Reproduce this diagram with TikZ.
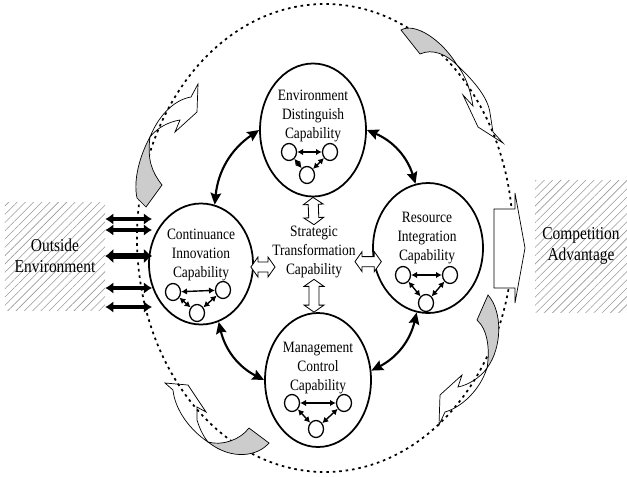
\documentclass[tikz,border=0pt]{standalone}
\usepackage{fontspec}
\setmainfont{Liberation Serif}[FakeStretch=0.85]
\usetikzlibrary{shapes.geometric, arrows.meta, calc, patterns.meta}

% hollow two-headed block arrow from one anchor to another
\newcommand\hollowlink[2]{%
  \draw[hollow] let \p1=($(#2)-(#1)$), \n1={atan2(\y1,\x1)}, \n2={veclen(\x1,\y1)} in
    [shift={(#1)}, rotate=\n1] (0,0) -- (6pt,8.5pt) -- (6pt,4.3pt) -- ({\n2*1pt-6pt},4.3pt)
    -- ({\n2*1pt-6pt},8.5pt) -- ({\n2*1pt},0pt) -- ({\n2*1pt-6pt},-8.5pt) -- ({\n2*1pt-6pt},-4.3pt)
    -- (6pt,-4.3pt) -- (6pt,-8.5pt) -- cycle;}

\begin{document}
\begin{tikzpicture}[x=0.03cm, y=-0.03cm, >={Stealth[length=10pt,width=9pt,inset=1.5pt]},
  lbl/.style={align=center, inner sep=1pt, font=\fontsize{13.5}{16.2}\selectfont},
  sidebox/.style={align=center, inner sep=0pt, font=\fontsize{15.5}{18}\selectfont,
    pattern={Lines[angle=45,distance=5pt,line width=0.5pt]}, pattern color=black!40},
  ring/.style={ellipse, draw, line width=1.5pt, fill=white, inner sep=0pt},
  dot/.style={ellipse, draw, line width=1.1pt, fill=white, minimum width=0.45cm, minimum height=0.51cm, inner sep=0pt},
  link/.style={<->, line width=1.8pt},
  mini/.style={{Latex[length=5pt,width=5.5pt]}-{Latex[length=5pt,width=5.5pt]}, line width=1.2pt},
  hollow/.style={draw, line width=0.7pt, fill=white},
  back/.style={draw, line width=0.6pt, fill=black!20},
  front/.style={draw, line width=0.6pt}]
  \useasboundingbox (0,0) rectangle (627,476);
  % hatched boxes at both sides
  \node[sidebox, minimum width=3cm, minimum height=3.24cm] (outside) at (55,256) {Outside\\Environment};
  \node[sidebox, minimum width=2.76cm, minimum height=3.96cm] (advantage) at (581,246) {Competition\\Advantage};
  % dotted boundary of the firm
  \draw[line width=1.5pt, dash pattern=on 2.2pt off 3.3pt] (325,238) ellipse [x radius=5.64cm, y radius=7.02cm];
  % block arrow towards the advantage
  \draw[line width=0.6pt, fill=white] (494,209) -- (515,209) -- (515,193) -- (525,248)
    -- (515,303) -- (515,288) -- (494,288) -- cycle;
  % turning ribbons round the boundary
  \draw[back] (150,137) .. controls (140,155) and (133,180) .. (137,198) -- (146,207) -- (162,185)
    .. controls (152,172) and (147,160) .. (150,137) -- cycle;
  \draw[front] (150,137) .. controls (158,117) and (173,100) .. (191,97) -- (198,84) -- (197,112)
    -- (175,132) -- (180,120) .. controls (168,122) and (157,128) .. (150,137);
  \draw[back] (401,30) .. controls (415,22) and (442,40) .. (457,65)
    .. controls (447,55) and (433,48) .. (420,54) -- cycle;
  \draw[front] (457,65) .. controls (475,82) and (488,98) .. (490,113) -- (493,132) -- (503,143)
    -- (478,127) -- (463,95) -- (473,106) .. controls (470,88) and (465,75) .. (457,65);
  \draw[back] (488,295) .. controls (503,312) and (502,348) .. (487,368)
    .. controls (490,350) and (488,330) .. (477,320) -- cycle;
  \draw[front] (487,368) .. controls (480,390) and (462,407) .. (445,412) -- (439,425) -- (440,395)
    -- (462,375) -- (458,387) .. controls (468,385) and (480,378) .. (487,368);
  \draw[front] (208,442) .. controls (190,430) and (175,410) .. (173,390) -- (165,383) -- (188,385)
    -- (206,412) -- (197,407) -- (197,420) .. controls (200,430) and (204,437) .. (208,442);
  \draw[back] (208,442) .. controls (222,446) and (240,440) .. (249,428) -- (269,443)
    .. controls (258,456) and (232,461) .. (208,442) -- cycle;
  % the four capabilities
  \node[ring, minimum width=3.18cm, minimum height=3.99cm] (envd) at (313,130) {};
  \node[ring, minimum width=3.12cm, minimum height=3.63cm] (innov) at (201,264) {};
  \node[ring, minimum width=3.3cm, minimum height=3.9cm] (resint) at (428,248) {};
  \node[ring, minimum width=3.18cm, minimum height=4.02cm] (mgmt) at (318,380) {};
  \node[lbl] (envd-t) at (313,116) {Environment\\Distinguish\\Capability};
  \node[lbl] (innov-t) at (201,255) {Continuance\\Innovation\\Capability};
  \node[lbl] (resint-t) at (427,238) {Resource\\Integration\\Capability};
  \node[lbl] (mgmt-t) at (318,368) {Management\\Control\\Capability};
  \node[lbl] (strat) at (314,252) {Strategic\\Transformation\\Capability};
  % small triangles inside
  \foreach \n/\ax/\ay/\bx/\by/\cx/\cy in {envd/-24/22/17/22/-6/45, innov/-28/28/22/26/-4/49,
      resint/-25/27/22/27/-2/55, mgmt/-26/23/26/23/-2/49} {
    \node[dot] (\n-a) at ($(\n)+(\ax,\ay)$) {};
    \node[dot] (\n-b) at ($(\n)+(\bx,\by)$) {};
    \node[dot] (\n-c) at ($(\n)+(\cx,\cy)$) {};
    \draw[mini] (\n-a) -- (\n-b);
    \draw[mini] (\n-a) -- (\n-c);
    \draw[mini] (\n-b) -- (\n-c);
  }
  % links between capabilities
  \draw[link] (envd.west) to[bend right=25] (innov.77);
  \draw[link] (envd.east) to[bend left=25] (resint.101);
  \draw[link] (innov.-73) to[bend right=25] (mgmt.west);
  \draw[link] (resint.-100) to[bend left=25] (mgmt.10);
  % hollow arrows to the centre
  \coordinate (innov-in) at ($(innov.east)+(-3,3)$);
  \coordinate (resint-in) at ($(resint.194)+(8,0)$);
  \coordinate (strat-w) at ($(strat.west)+(4,0)$);
  \coordinate (strat-e) at ($(strat.east)+(-2,0)$);
  \hollowlink{envd.south}{strat.north}
  \hollowlink{strat.south}{strat.south |- mgmt.north}
  \hollowlink{innov-in}{innov-in -| strat-w}
  \hollowlink{resint-in}{resint-in -| strat-e}
  % exchange with the outside
  \foreach \y/\w/\h in {219/2.6pt/10pt, 230/2.6pt/10pt, 256/4.5pt/13pt, 288/2.6pt/10pt, 307/2.6pt/10pt}
    \draw[line width=\w, {Latex[length=7pt,width=\h]}-{Latex[length=7pt,width=\h]}]
      (outside.east |- 0,\y) -- (152,\y);
\end{tikzpicture}
\end{document}
